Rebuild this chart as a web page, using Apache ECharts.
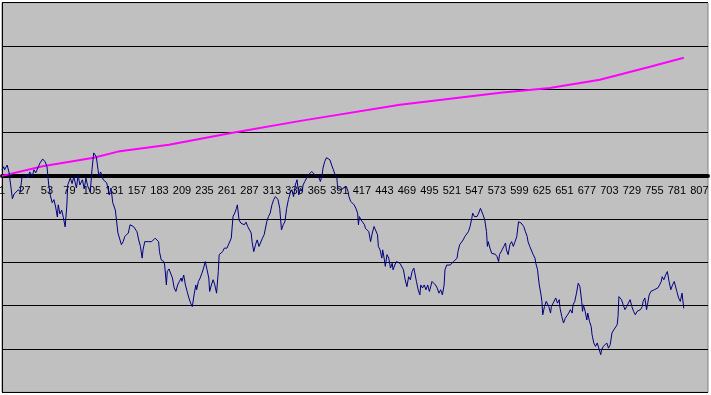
<!DOCTYPE html>
<html><head><meta charset="utf-8">
<script src="https://cdn.jsdelivr.net/npm/echarts@6/dist/echarts.min.js"></script>
<style>html,body{margin:0;padding:0;background:#fff}#c{width:711px;height:395px}</style>
</head><body><div id="c"></div>
<script>
// category axis: 1 .. 817, labels every 26th (1, 27, 53, ... 807)
const categoryCount = 817;
const categories = [];
for (let i = 1; i <= categoryCount; i++) categories.push(String(i));

// magenta trend line: [category, value]
const trendPoints = [[1,0],[48,0.22],[107,0.42],[135,0.56],[194,0.72],[266,0.99],[346,1.27],[461,1.64],[577,1.92],[634,2.03],[692,2.22],[750,2.52],[789,2.73]];

// navy series: [category, value]
const pricePoints = [
[1,0.14],[3,0.21],[4,0.14],[7,0.25],[9,0.09],[11,-0.21],[13,-0.53],[15,-0.42],[17,-0.46],[20,-0.32],[22,-0.37],[24,-0.05],[26,-0.09],[29,0.02],[31,-0.05],[33,0.09],[36,0],[38,0.14],[40,0.07],[43,0.21],[45,0.30],[48,0.39],[51,0.32],[53,0.21],[55,-0.21],[57,-0.46],[59,-0.62],[61,-0.55],[63,-0.72],[65,-0.95],[66,-0.67],[68,-0.88],[70,-0.79],[72,-0.97],[74,-1.18],[76,-0.67],[77,-0.21],[80,-0.05],[82,-0.18],[84,-0.02],[87,-0.28],[89,0.02],[91,-0.21],[94,-0.09],[96,-0.30],[98,-0.05],[100,-0.23],[103,-0.37],[105,0.14],[107,0.53],[110,0.44],[112,0.14],[113,0],[115,0.09],[118,-0.09],[120,-0.05],[122,-0.16],[125,-0.44],[127,-0.28],[129,-0.62],[132,-0.79],
[135,-1.32],[137,-1.36],[139,-1.59],[141,-1.52],[143,-1.40],[145,-1.36],[147,-1.32],[149,-1.13],[151,-1.09],[153,-1.17],[155,-1.13],[157,-1.29],[159,-1.48],[161,-1.63],[163,-1.90],[164,-1.71],[166,-1.52],[168,-1.48],[170,-1.52],[172,-1.48],[174,-1.52],[176,-1.55],[178,-1.44],[180,-1.40],[182,-1.52],[183,-1.75],[185,-1.94],[186,-1.90],[188,-1.98],[189,-2.06],[191,-2.52],[192,-2.21],[194,-2.15],[196,-2.15],[198,-2.36],[200,-2.59],[202,-2.67],[204,-2.52],[206,-2.44],[208,-2.36],[209,-2.44],[211,-2.29],[213,-2.52],[215,-2.67],[217,-2.82],[219,-2.94],[221,-3.02],[223,-2.75],[225,-2.52],[226,-2.63],[228,-2.44],[230,-2.36],[232,-2.25],[234,-2.13],[236,-1.98],[238,-2.17],[240,-2.36],[241,-2.67],[243,-2.52],[245,-2.40],[247,-2.52],[249,-2.71],[251,-2.21],[252,-1.82],[254,-1.79],[256,-1.75],[258,-1.67],[261,-1.67],[263,-1.67],[266,-1.44],
[268,-0.94],[270,-0.86],[272,-0.75],[273,-0.67],[275,-1.02],[277,-1.09],[279,-1.06],[281,-1.13],[283,-1.07],[285,-1.17],[287,-1.21],[289,-1.32],[290,-1.52],[292,-1.75],[294,-1.59],[296,-1.48],[298,-1.63],[300,-1.67],[302,-1.44],[304,-1.36],[306,-1.32],[307,-1.06],[309,-0.94],[311,-0.86],[313,-0.67],[315,-0.55],[317,-0.48],[319,-0.52],[320,-0.55],[322,-0.75],[324,-1.25],[326,-1.13],[328,-1.06],[330,-0.75],[332,-0.55],[334,-0.40],[336,-0.32],[338,-0.48],[340,-0.21],[342,-0.09],[344,-0.44],[346,-0.28],[348,-0.36],[349,-0.21],[351,-0.13],[353,-0.05],[355,0.02],[357,0.06],[359,0.10],[361,0.14],[363,0.02],[365,0.06],[367,-0.02],[369,-0.13],[371,0.02],[372,0.18],[374,0.33],[376,0.42],[378,0.45],[380,0.37],[382,0.25],[384,0.14],[386,0.02],[388,-0.05],[389,-0.28],[391,-0.25],[393,-0.32],[396,-0.28],
[399,-0.25],[401,-0.36],[402,-0.48],[404,-0.59],[406,-0.55],[408,-0.67],[410,-0.75],[412,-0.86],[413,-1.13],[414,-0.94],[416,-1.02],[418,-0.98],[420,-1.13],[421,-1.21],[423,-1.17],[425,-1.29],[427,-1.52],[429,-1.32],[431,-1.17],[433,-1.13],[435,-1.36],[436,-1.63],[438,-1.71],[440,-1.90],[441,-1.71],[443,-1.94],[444,-2.09],[446,-1.82],[448,-1.90],[450,-2.13],[452,-2.02],[453,-2.17],[455,-2.06],[457,-1.98],[459,-1.94],[461,-2.02],[463,-1.98],[465,-2.17],[467,-2.40],[469,-2.56],[471,-2.33],[473,-2.40],[475,-2.21],[477,-2.13],[478,-2.17],[480,-2.44],[482,-2.63],[484,-2.75],[485,-2.52],[487,-2.59],[489,-2.52],[491,-2.63],[493,-2.52],[495,-2.67],[497,-2.52],[498,-2.44],[500,-2.40],[502,-2.52],[504,-2.59],[506,-2.71],[508,-2.63],[510,-2.75],[512,-2.52],[513,-2.17],[515,-2.06],[517,-2.09],[519,-2.06],[521,-2.02],[523,-1.98],[525,-1.94],[527,-1.90],[528,-1.75],[530,-1.59],[532,-1.55],
[534,-1.48],[536,-1.40],[538,-1.36],[540,-1.29],[542,-1.17],[544,-0.98],[545,-0.86],[547,-0.94],[549,-0.90],[550,-0.94],[552,-0.86],[554,-0.75],[556,-0.71],[557,-0.90],[559,-1.02],[561,-1.29],[562,-1.63],[563,-1.52],[565,-1.67],[567,-1.79],[569,-1.82],[571,-1.81],[573,-1.86],[575,-1.98],[576,-1.82],[578,-1.79],[579,-1.71],[581,-1.63],[583,-1.55],[584,-1.71],[586,-1.82],[588,-1.59],[590,-1.52],[592,-1.63],[594,-1.52],[596,-1.40],[598,-1.06],[599,-1.02],[601,-1.09],[604,-1.17],[606,-1.29],[608,-1.40],[609,-1.52],[611,-1.63],[613,-1.67],[615,-1.82],[617,-1.90],[618,-2.02],[620,-2.17],[621,-2.36],[622,-2.52],[624,-2.75],[625,-2.90],[626,-3.21],[628,-3.02],[630,-2.90],[631,-2.86],[633,-3.02],[635,-3.17],[636,-3.02],[638,-2.94],[640,-2.90],[641,-2.82],[643,-2.94],[645,-2.86],[646,-3.06],[648,-3.25],[650,-3.40],[652,-3.29],[654,-3.25],[656,-3.17],[658,-3.09],[660,-3.17],[661,-2.98],[663,-2.90],[665,-2.71],[667,-2.48],[669,-2.56],
[671,-2.90],[672,-3.13],[673,-2.98],[675,-3.13],[677,-3.33],[678,-3.17],[680,-3.36],[682,-3.48],[683,-3.67],[685,-3.86],[687,-3.94],[689,-3.86],[691,-3.90],[693,-4.13],[694,-4.02],[696,-3.94],[698,-3.90],[700,-3.86],[702,-3.98],[704,-3.90],[706,-3.63],[708,-3.56],[710,-3.52],[712,-3.44],[713,-3.25],[714,-2.79],[715,-2.75],[717,-2.86],[719,-2.98],[721,-3.09],[723,-3.02],[725,-2.94],[727,-2.86],[729,-3.02],[731,-3.13],[733,-3.21],[735,-3.13],[737,-3.17],[739,-3.09],[741,-3.02],[742,-2.90],[744,-2.82],[746,-3.09],[747,-2.98],[749,-2.75],[751,-2.67],[753,-2.71],[755,-2.63],[757,-2.67],[759,-2.59],[761,-2.52],[763,-2.44],[764,-2.33],[766,-2.40],[768,-2.29],[770,-2.21],[772,-2.44],[774,-2.63],[776,-2.52],[778,-2.44],[780,-2.48],[781,-2.67],[783,-2.82],[785,-2.90],[787,-2.71],[789,-3.06]
];

const yMin = -5, yMax = 4, yStep = 1;
const gridTop = 2.7, gridBottom = 2.7, chartH = 395;
// distance from the bottom edge of the plot up to the zero value
const plotH = chartH - gridTop - gridBottom;
const zeroOffset = plotH * (0 - yMin) / (yMax - yMin);

const chart = echarts.init(document.getElementById('c'), null, {renderer: 'canvas'});
chart.setOption({
  animation: false,
  backgroundColor: '#ffffff',
  grid: {
    left: 2, right: 3, top: gridTop, bottom: gridBottom,
    containLabel: false, outerBoundsMode: 'none',
    show: true, backgroundColor: '#C0C0C0', borderColor: '#808080', borderWidth: 1
  },
  xAxis: {
    type: 'category',
    data: categories,
    boundaryGap: false,
    position: 'bottom',
    offset: -zeroOffset,
    axisLine: { onZero: false, lineStyle: { color: '#000000', width: 4 } },
    axisTick: { show: false },
    axisLabel: {
      interval: 25, color: '#000000', fontFamily: 'Liberation Sans, Arial, sans-serif',
      fontSize: 11, margin: 10, hideOverlap: false
    },
    splitLine: { show: false }
  },
  yAxis: {
    type: 'value', min: yMin, max: yMax, interval: yStep,
    axisLine: { show: true, onZero: false, lineStyle: { color: '#000000', width: 1 } },
    axisTick: { show: false },
    axisLabel: { show: false },
    splitLine: { show: true, lineStyle: { color: '#000000', width: 1 } }
  },
  series: [
    {
      type: 'line', name: 'trend', symbol: 'none',
      data: trendPoints.map(p => [String(p[0]), p[1]]),
      lineStyle: { color: '#FF00FF', width: 2 }, z: 3
    },
    {
      type: 'line', name: 'series', symbol: 'none',
      data: pricePoints.map(p => [String(p[0]), p[1]]),
      lineStyle: { color: '#000080', width: 1 }, z: 4
    }
  ]
});
</script>
</body></html>
